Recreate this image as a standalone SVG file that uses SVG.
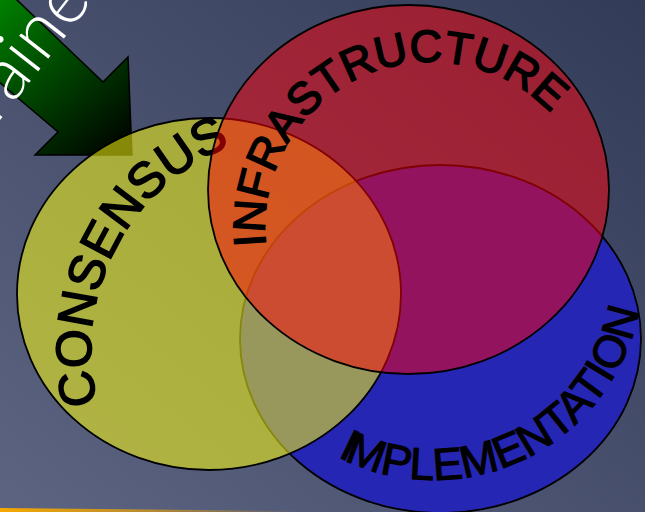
<svg xmlns="http://www.w3.org/2000/svg" width="645" height="512" viewBox="0 0 645 512">
<defs>
<linearGradient id="bg" x1="0" y1="1" x2="1" y2="0">
<stop offset="0" stop-color="#5c6482"/>
<stop offset="1" stop-color="#323b58"/>
</linearGradient>
<linearGradient id="arrowGrad" gradientUnits="userSpaceOnUse" x1="0" y1="0" x2="130" y2="150">
<stop offset="0" stop-color="#008000"/>
<stop offset="1" stop-color="#000000"/>
</linearGradient>
<linearGradient id="orange" x1="0" y1="0" x2="1" y2="0">
<stop offset="0" stop-color="#f5a800"/>
<stop offset="0.5" stop-color="#f5a800" stop-opacity="0.6"/>
<stop offset="1" stop-color="#f5a800" stop-opacity="0"/>
</linearGradient>
<path id="pCons" d="M97.7,403.7 A219,219 0 0 1 310,131"/>
<path id="pInfra" d="M265.9,245.6 A166,166 0 0 1 574.8,145"/>
<path id="pImpl" d="M337.5,456.5 A209,209 0 0 0 630.4,200.5"/>
</defs>
<style>
.ring{stroke:#000;stroke-width:1.8}
.arc{font-family:"Liberation Sans",Arial,sans-serif;fill:#000;stroke:#000;stroke-width:1.6}
.impl{font-family:"Liberation Sans",Arial,sans-serif;fill:#000;stroke:#000;stroke-width:1.2}
.thin{font-family:Lato,"Open Sans","Liberation Sans",sans-serif;font-weight:300;fill:#fff}
</style>
<rect x="0" y="0" width="645" height="512" fill="url(#bg)"/>
<polygon points="0,508 300,511 300,512 0,512" fill="url(#orange)"/>
<g id="arrow">
<polygon points="-25,-40 103,82 128,57 132,155 35,155 58,132 -60,32" fill="url(#arrowGrad)" stroke="#000" stroke-width="1.5"/>
</g>
<g id="implementation">
<ellipse class="ring" cx="440.5" cy="339" rx="200.5" ry="174" fill="#2626b5"/>
</g>
<g id="consensus">
<ellipse class="ring" cx="209" cy="294" rx="192" ry="176" fill="#ffff10" fill-opacity="0.53"/>
<text class="arc" font-size="50"><textPath href="#pCons">CONSENSUS</textPath></text>
</g>
<g id="infrastructure">
<ellipse class="ring" cx="408.5" cy="189.5" rx="200.5" ry="184.5" fill="#ff0008" fill-opacity="0.5"/>
<text class="arc" font-size="45"><textPath href="#pInfra">INFRASTRUCTURE</textPath></text>
</g>
<g id="implementation-label">
<text class="impl" font-size="45"><textPath href="#pImpl">I<tspan dx="-5">MPLEMENTATION</tspan></textPath></text>
</g>
<g id="arrow-label">
<text class="thin" font-size="74" text-anchor="middle" transform="translate(47,60) rotate(-52)">Trained</text>
</g>
</svg>
